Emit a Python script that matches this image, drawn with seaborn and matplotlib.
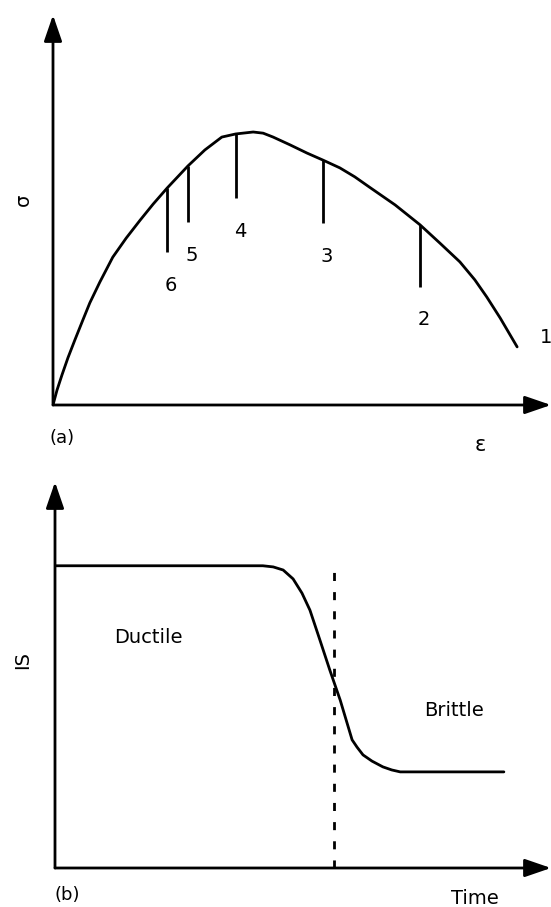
import matplotlib
matplotlib.use("Agg")
import matplotlib.pyplot as plt
import seaborn as sns

# (a) stress-strain curve, arbitrary units (0-100 on both axes)
strain = [0.0, 0.8, 1.8, 3.0, 4.4, 6.0, 7.4, 9.4, 12.0, 14.7, 17.5, 20.1,
          22.9, 27.1, 30.5, 33.9, 36.7, 40.2, 42.2, 44.2, 47.6, 51.0, 54.2,
          57.6, 60.6, 63.5, 68.7, 73.7, 77.7, 81.7, 84.7, 87.1, 89.8, 93.2]
stress = [0.0, 3.8, 7.7, 12.1, 16.7, 21.8, 26.2, 31.5, 37.9, 42.8, 47.4,
          51.5, 55.6, 61.3, 65.4, 68.7, 69.5, 70.0, 69.7, 68.7, 66.7, 64.6,
          62.8, 60.8, 58.5, 55.9, 51.3, 46.2, 41.5, 36.7, 32.1, 27.7, 22.3,
          14.9]

# sampling stages marked along the curve
stage_labels = ["6", "5", "4", "3", "2"]
stage_strain = [22.9, 27.1, 36.7, 54.2, 73.7]
stage_top = [55.6, 61.3, 69.5, 62.8, 46.2]
stage_bottom = [39.2, 46.9, 53.1, 46.7, 30.3]
final_stage = "1"

# (b) impact strength against ageing time, arbitrary units
time = [0.0, 41.9, 44.0, 46.0, 48.0, 49.8, 51.4, 53.4, 55.4, 57.5, 59.9,
        60.9, 62.1, 63.9, 66.1, 67.9, 69.6, 90.5]
impact = [78.3, 78.3, 78.0, 77.2, 74.9, 71.2, 66.8, 59.1, 51.3, 43.5, 33.2,
          31.3, 29.3, 27.7, 26.2, 25.4, 24.9, 24.9]
transition_time = 56.3
transition_top = 77.2

sns.set_theme(style="white")
plt.rcParams["font.family"] = ["DejaVu Sans"]
plt.rcParams["text.color"] = "black"

FS = 14
LW = 2.0
W, H = 551, 907

fig = plt.figure(figsize=(W / 100, H / 100), dpi=100)
fig.patch.set_facecolor("white")

ax1 = fig.add_axes([53 / W, 1 - 405 / H, 498 / W, 390 / H])
ax2 = fig.add_axes([55 / W, 1 - 868 / H, 496 / W, 386 / H])


def arrow_axes(ax):
    ax.set_xlim(0, 100)
    ax.set_ylim(0, 100)
    ax.set_axis_off()
    style = "-|>,head_length=1.6,head_width=0.55"
    for tip in [(100, 0), (0, 100)]:
        ax.annotate("", xy=tip, xytext=(0, 0), annotation_clip=False,
                    arrowprops=dict(arrowstyle=style, mutation_scale=10,
                                    lw=LW, color="black",
                                    shrinkA=0, shrinkB=0))


# ---- (a) stress-strain ----
arrow_axes(ax1)
sns.lineplot(x=strain, y=stress, ax=ax1, color="black", lw=LW,
             sort=False, estimator=None)
ax1.vlines(stage_strain, stage_bottom, stage_top, color="black", lw=LW)
for lab, sx, sb in zip(stage_labels, stage_strain, stage_bottom):
    ax1.text(sx + 0.8, sb - 8.5, lab, fontsize=FS, ha="center", va="center")
ax1.text(strain[-1] + 4.6, stress[-1] + 2.5, final_stage, fontsize=FS,
         ha="left", va="center")
ax1.text(-6.0, 52.6, "σ", fontsize=FS, rotation=90, ha="center",
         va="center")
ax1.text(-0.8, -8.5, "(a)", fontsize=FS - 1, ha="left", va="center")
ax1.text(85.7, -10.3, "ε", fontsize=FS + 1, ha="center", va="center")

# ---- (b) impact strength ----
arrow_axes(ax2)
sns.lineplot(x=time, y=impact, ax=ax2, color="black", lw=LW,
             sort=False, estimator=None)
ax2.vlines([transition_time], [0], [transition_top], color="black", lw=LW,
           linestyles=[(0, (2.9, 4.0))])
ax2.text(18.8, 59.8, "Ductile", fontsize=FS, ha="center", va="center")
ax2.text(80.4, 40.7, "Brittle", fontsize=FS, ha="center", va="center")
ax2.text(-6.5, 53.9, "IS", fontsize=FS, rotation=90, ha="center",
         va="center")
ax2.text(0.0, -7.0, "(b)", fontsize=FS - 1, ha="left", va="center")
ax2.text(84.7, -8.0, "Time", fontsize=FS, ha="center", va="center")

fig.savefig("out.png", dpi=100, facecolor="white")
